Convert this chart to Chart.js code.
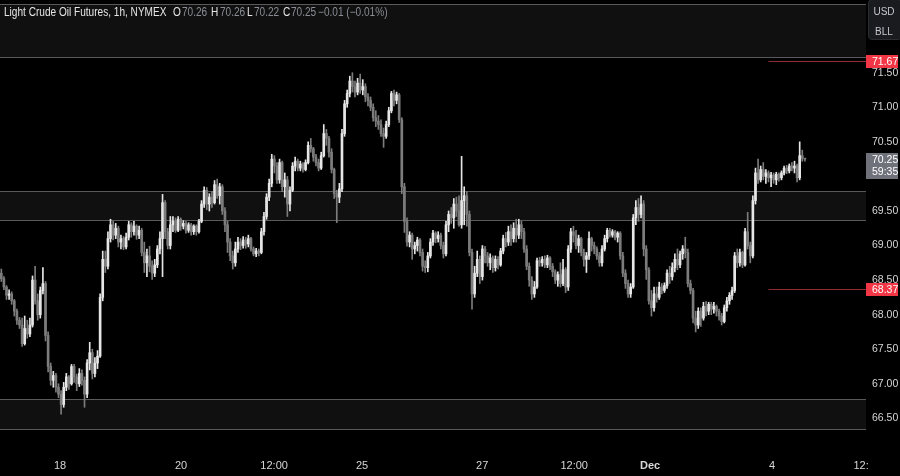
<!DOCTYPE html>
<html><head><meta charset="utf-8">
<script src="https://cdn.jsdelivr.net/npm/chart.js@4/dist/chart.umd.min.js"></script>
<style>
html,body{margin:0;padding:0;background:#000;}
#wrap{position:relative;width:900px;height:476px;overflow:hidden;background:#000;}
canvas{position:absolute;left:0;top:0;}
.t{position:absolute;top:5px;font:12px 'Liberation Sans',sans-serif;white-space:nowrap;line-height:14px;transform:scaleX(0.84);transform-origin:0 0;}
.w{color:#e6e6e6;} .g{color:#8a8d96;}
#unit{position:absolute;left:868px;top:-1px;width:34px;height:41px;background:#1a1b1f;border:1px solid #2c2d31;border-radius:4px;box-sizing:border-box;font:10px 'Liberation Sans',sans-serif;color:#c4c6cc;}
#unit div{position:absolute;left:0;width:30px;text-align:center;}
</style></head>
<body><div id="wrap"><canvas id="c" width="900" height="476"></canvas>
<div class="t w" style="left:4px">Light Crude Oil Futures, 1h, NYMEX</div>
<div id="ohlc"></div>
<div id="unit"><div style="top:6px">USD</div><div style="top:26px">BLL</div></div>
</div>
<script>
// ---- data (hourly candles) ----
const opens = [
68.60,68.52,68.40,68.28,68.30,68.20,68.05,67.92,67.85,67.58,
67.80,67.72,67.85,68.50,68.20,68.00,68.35,68.45,67.70,67.25,
67.05,67.12,66.95,66.85,66.70,66.95,67.10,67.00,67.25,67.10,
67.00,67.15,67.05,66.85,67.30,67.45,67.15,67.30,67.40,68.25,
68.80,68.70,69.10,69.30,69.15,69.25,69.05,69.10,68.98,69.12,
69.30,69.20,69.28,69.15,69.22,68.90,68.75,68.85,68.70,68.60,
68.72,68.95,69.10,69.62,69.20,69.00,69.30,69.35,69.22,69.38,
69.28,69.32,69.22,69.30,69.20,69.28,69.20,69.35,69.60,69.80,
69.60,69.70,69.62,69.88,69.72,69.85,69.50,69.30,69.05,68.85,
68.75,68.95,69.05,69.00,69.08,69.02,69.10,68.95,68.88,68.92,
68.90,69.20,69.42,69.70,69.90,70.25,70.15,69.95,70.20,69.85,
69.95,69.60,69.80,70.15,70.22,70.12,70.18,70.10,70.20,70.45,
70.40,70.28,70.20,70.12,70.30,70.62,70.55,70.35,70.10,69.75,
69.70,69.82,70.62,71.05,71.20,71.38,71.30,71.22,71.35,71.25,
71.30,71.15,71.10,71.00,70.85,70.80,70.75,70.62,70.58,70.75,
70.95,71.20,71.10,71.18,70.82,69.85,69.35,69.05,69.15,68.95,
69.00,69.08,68.90,68.70,68.68,68.85,69.05,69.18,69.10,69.15,
69.00,68.88,69.30,69.45,69.40,69.60,69.50,69.30,69.65,69.72,
69.45,68.90,68.30,68.60,68.80,68.55,68.95,68.85,68.75,68.82,
68.68,68.80,68.72,68.92,69.10,69.05,69.20,69.10,69.25,69.15,
69.30,69.20,68.95,68.70,68.50,68.30,68.40,68.78,68.75,68.80,
68.72,68.82,68.70,68.62,68.50,68.58,68.45,68.65,68.40,68.95,
69.20,69.15,69.00,69.10,68.90,68.80,68.85,69.10,69.00,68.95,
68.85,68.75,68.95,69.10,69.22,69.15,69.20,69.12,69.18,68.85,
68.60,68.45,68.30,68.40,69.40,69.55,69.45,69.60,68.95,68.65,
68.20,68.10,68.30,68.25,68.40,68.35,68.42,68.60,68.55,68.68,
68.80,68.72,68.88,68.95,68.90,68.45,68.35,67.95,67.85,68.05,
67.95,68.12,68.05,68.15,68.08,68.12,68.05,67.98,67.90,68.10,
68.20,68.28,68.35,68.85,68.75,68.90,68.72,69.20,69.00,68.85,
69.65,70.05,69.95,70.10,70.00,70.05,69.98,70.02,69.95,70.03,
69.98,70.05,70.12,70.08,70.15,70.12,70.15,69.98,70.30,70.26];
const highs = [
68.66,68.55,68.42,68.36,68.33,68.22,68.08,67.96,67.95,67.98,
67.92,67.95,68.56,68.70,68.30,68.40,68.68,68.48,67.75,67.30,
67.18,67.15,67.00,66.90,67.02,67.15,67.12,67.28,67.28,67.14,
67.22,67.20,67.10,67.35,67.60,67.50,67.38,67.48,68.30,68.92,
68.92,69.20,69.38,69.35,69.32,69.28,69.15,69.13,69.18,69.35,
69.33,69.35,69.30,69.28,69.25,69.05,68.95,68.99,68.78,68.80,
69.00,69.20,69.74,69.65,69.25,69.42,69.42,69.40,69.42,69.40,
69.36,69.35,69.33,69.32,69.30,69.30,69.38,69.65,69.85,69.84,
69.75,69.78,69.94,69.96,69.90,69.88,69.55,69.35,69.10,68.92,
69.05,69.12,69.10,69.13,69.12,69.15,69.12,68.98,68.96,68.95,
69.25,69.48,69.75,69.96,70.32,70.30,70.20,70.25,70.22,70.05,
70.00,69.85,70.20,70.28,70.25,70.22,70.20,70.24,70.50,70.55,
70.42,70.32,70.25,70.35,70.75,70.68,70.58,70.40,70.12,69.80,
69.90,70.68,71.10,71.25,71.45,71.50,71.38,71.42,71.48,71.40,
71.34,71.20,71.15,71.05,70.95,70.88,70.82,70.70,70.80,71.00,
71.23,71.25,71.22,71.20,70.85,69.90,69.40,69.20,69.18,69.05,
69.12,69.10,68.95,68.78,68.90,69.10,69.22,69.20,69.20,69.18,
69.05,69.35,69.50,69.55,69.68,69.70,69.72,70.29,69.85,69.78,
69.50,68.95,68.70,68.92,68.85,69.00,68.99,68.90,68.88,68.85,
68.85,68.84,68.96,69.15,69.19,69.28,69.30,69.33,69.38,69.38,
69.35,69.25,69.00,68.75,68.55,68.48,68.82,68.83,68.84,68.85,
68.86,68.84,68.74,68.65,68.62,68.75,68.80,68.68,69.00,69.25,
69.28,69.22,69.15,69.12,68.95,68.90,69.20,69.12,69.05,68.98,
68.90,69.00,69.15,69.25,69.25,69.23,69.22,69.20,69.20,68.90,
68.65,68.50,68.45,69.45,69.65,69.68,69.72,69.65,69.00,68.68,
68.35,68.40,68.40,68.47,68.45,68.46,68.65,68.70,68.75,68.88,
68.95,68.92,69.00,69.12,68.95,68.50,68.38,68.05,68.10,68.10,
68.18,68.19,68.18,68.18,68.18,68.14,68.08,68.02,68.14,68.25,
68.32,68.40,68.90,68.95,68.95,68.92,69.25,69.48,69.05,69.72,
70.12,70.25,70.15,70.20,70.10,70.08,70.06,70.05,70.06,70.05,
70.08,70.15,70.16,70.18,70.20,70.22,70.18,70.50,70.38,70.26];
const lows = [
68.48,68.36,68.22,68.22,68.15,67.98,67.86,67.80,67.54,67.56,
67.66,67.68,67.82,68.15,67.92,67.95,68.30,67.62,67.17,66.98,
66.95,66.88,66.80,66.56,66.66,66.90,66.92,66.98,67.02,66.90,
66.96,66.98,66.66,66.80,67.20,67.07,67.10,67.22,67.38,68.20,
68.61,68.66,69.05,69.08,69.10,68.98,68.95,68.94,68.95,69.08,
69.12,69.15,69.09,69.10,68.85,68.61,68.55,68.62,68.51,68.55,
68.68,68.88,68.55,69.10,68.95,68.95,69.20,69.19,69.20,69.22,
69.24,69.18,69.19,69.15,69.16,69.15,69.18,69.33,69.55,69.52,
69.50,69.55,69.60,69.68,69.60,69.45,69.20,68.90,68.78,68.66,
68.70,68.90,68.94,68.96,68.96,68.98,68.92,68.85,68.84,68.85,
68.88,69.15,69.38,69.65,69.85,70.05,69.90,69.90,69.78,69.70,
69.42,69.50,69.78,70.08,70.08,70.08,70.06,70.08,70.18,70.35,
70.22,70.15,70.08,70.10,70.28,70.45,70.28,70.05,69.68,69.33,
69.62,69.78,70.58,71.00,71.15,71.22,71.15,71.18,71.20,71.18,
71.08,71.02,70.95,70.80,70.72,70.68,70.58,70.42,70.55,70.72,
70.92,71.02,71.05,70.78,69.75,69.19,68.99,68.98,68.80,68.88,
68.92,68.85,68.63,68.61,68.62,68.82,69.00,69.04,69.05,68.95,
68.82,68.85,69.20,69.32,69.25,69.42,69.28,69.25,69.30,69.28,
68.85,68.08,68.25,68.55,68.45,68.50,68.75,68.70,68.65,68.61,
68.63,68.66,68.70,68.88,68.98,69.00,69.00,69.05,69.05,69.10,
69.10,68.90,68.65,68.41,68.22,68.25,68.38,68.70,68.70,68.68,
68.68,68.65,68.55,68.45,68.41,68.40,68.42,68.32,68.35,68.90,
69.05,68.95,68.90,68.85,68.70,68.61,68.80,68.92,68.88,68.80,
68.70,68.70,68.92,69.05,69.12,69.12,69.08,69.05,68.80,68.55,
68.38,68.25,68.25,68.38,69.30,69.35,69.40,68.85,68.51,68.15,
67.98,68.05,68.18,68.22,68.30,68.32,68.38,68.45,68.50,68.62,
68.65,68.68,68.80,68.82,68.40,68.30,67.88,67.75,67.80,67.83,
67.92,67.98,68.00,68.00,68.02,67.98,67.92,67.85,67.88,68.05,
68.15,68.22,68.32,68.68,68.70,68.68,68.70,68.95,68.75,68.82,
69.60,69.90,69.92,69.95,69.90,69.92,69.85,69.90,69.88,69.93,
69.95,70.02,70.04,70.05,70.08,70.05,69.92,69.95,70.22,70.22];
const closes = [
68.52,68.40,68.28,68.30,68.20,68.05,67.92,67.85,67.58,67.80,
67.72,67.85,68.50,68.20,68.00,68.35,68.45,67.70,67.25,67.05,
67.12,66.95,66.85,66.70,66.95,67.10,67.00,67.25,67.10,67.00,
67.15,67.05,66.85,67.30,67.45,67.15,67.30,67.40,68.25,68.80,
68.70,69.10,69.30,69.15,69.25,69.05,69.10,68.98,69.12,69.30,
69.20,69.28,69.15,69.22,68.90,68.75,68.85,68.70,68.60,68.72,
68.95,69.10,69.62,69.20,69.00,69.30,69.35,69.22,69.38,69.28,
69.32,69.22,69.30,69.20,69.28,69.20,69.35,69.60,69.80,69.60,
69.70,69.62,69.88,69.72,69.85,69.50,69.30,69.05,68.85,68.75,
68.95,69.05,69.00,69.08,69.02,69.10,68.95,68.88,68.92,68.90,
69.20,69.42,69.70,69.90,70.25,70.15,69.95,70.20,69.85,69.95,
69.60,69.80,70.15,70.22,70.12,70.18,70.10,70.20,70.45,70.40,
70.28,70.20,70.12,70.30,70.62,70.55,70.35,70.10,69.75,69.70,
69.82,70.62,71.05,71.20,71.38,71.30,71.22,71.35,71.25,71.30,
71.15,71.10,71.00,70.85,70.80,70.75,70.62,70.58,70.75,70.95,
71.20,71.10,71.18,70.82,69.85,69.35,69.05,69.15,68.95,69.00,
69.08,68.90,68.70,68.68,68.85,69.05,69.18,69.10,69.15,69.00,
68.88,69.30,69.45,69.40,69.60,69.50,69.30,69.65,69.72,69.45,
68.90,68.30,68.60,68.80,68.55,68.95,68.85,68.75,68.82,68.68,
68.80,68.72,68.92,69.10,69.05,69.20,69.10,69.25,69.15,69.30,
69.20,68.95,68.70,68.50,68.30,68.40,68.78,68.75,68.80,68.72,
68.82,68.70,68.62,68.50,68.58,68.45,68.65,68.40,68.95,69.20,
69.15,69.00,69.10,68.90,68.80,68.85,69.10,69.00,68.95,68.85,
68.75,68.95,69.10,69.22,69.15,69.20,69.12,69.18,68.85,68.60,
68.45,68.30,68.40,69.40,69.55,69.45,69.60,68.95,68.65,68.20,
68.10,68.30,68.25,68.40,68.35,68.42,68.60,68.55,68.68,68.80,
68.72,68.88,68.95,68.90,68.45,68.35,67.95,67.85,68.05,67.95,
68.12,68.05,68.15,68.08,68.12,68.05,67.98,67.90,68.10,68.20,
68.28,68.35,68.85,68.75,68.90,68.72,69.20,69.00,68.85,69.65,
70.05,69.95,70.10,70.00,70.05,69.98,70.02,69.95,70.03,69.98,
70.05,70.12,70.08,70.15,70.12,70.15,69.98,70.30,70.26,70.25];

// candle slots (incl. empty right margin) and time-axis labels by candle index
const slotCount = 333;
const timeTickIndex = [22.6, 69.1, 104.9, 138.7, 184.9, 220.3, 249.5, 296.4, 330.6];
const timeTickText  = ['18', '20', '12:00', '25', '27', '12:00', 'Dec', '4', '12:'];
const priceTicks = [66.5, 67.0, 67.5, 68.0, 68.5, 69.0, 69.5, 70.0, 70.5, 71.0, 71.5];
const zones = [[69.368, 69.783], [66.344, 66.777], [71.727, 72.50]];
const alertLevels = [71.67, 68.37];
const alertStartIndex = 295;
const countdown = '59:35';

const UP = '#e6e6e6', DOWN = '#7c7c7c';
const n = closes.length;
const colors = closes.map((c, i) => c >= opens[i] ? UP : DOWN);
const wickData = lows.map((l, i) => ({x: i, y: [l, highs[i]]}));
const bodyData = opens.map((o, i) => ({x: i, y: [Math.min(o, closes[i]), Math.max(o, closes[i])]}));

// header OHLC text
const last = n - 1;
const chg = closes[last] - closes[last - 1];
const pct = chg / closes[last - 1] * 100;
const fmt = v => v.toFixed(2);
const sgn = v => (v < 0 ? '\u2212' : '+') + Math.abs(v).toFixed(2);
const parts = [
  [173, 'w', 'O'], [182, 'g', fmt(opens[last])],
  [211, 'w', 'H'], [220, 'g', fmt(highs[last])],
  [247, 'w', 'L'], [254, 'g', fmt(lows[last])],
  [283, 'w', 'C'], [291, 'g', fmt(closes[last])],
  [318, 'g', sgn(chg) + ' (' + sgn(pct) + '%)']
];
document.getElementById('ohlc').innerHTML = parts.map(p =>
  '<div class="t ' + p[1] + '" style="left:' + p[0] + 'px">' + p[2] + '</div>').join('');

const FONT = "'Liberation Sans',sans-serif";

const overlay = {
  id: 'overlay',
  beforeDatasetsDraw(chart) {
    const {ctx, chartArea: a, scales: {y}} = chart;
    ctx.save();
    zones.forEach(([lo, hi]) => {
      const yt = Math.round(y.getPixelForValue(hi)) + 0.5;
      const yb = Math.round(y.getPixelForValue(lo)) + 0.5;
      ctx.fillStyle = '#101010';
      ctx.fillRect(a.left, yt, a.right - a.left, yb - yt);
      ctx.strokeStyle = '#5a5a5a';
      ctx.lineWidth = 1;
      ctx.beginPath();
      ctx.moveTo(a.left, yt); ctx.lineTo(a.right, yt);
      ctx.moveTo(a.left, yb); ctx.lineTo(a.right, yb);
      ctx.stroke();
    });
    ctx.restore();
  },
  afterDraw(chart) {
    const {ctx, chartArea: a, scales: {x, y}} = chart;
    ctx.save();
    const x0 = x.getPixelForValue(alertStartIndex);
    ctx.font = '10.5px ' + FONT;
    ctx.textAlign = 'left'; ctx.textBaseline = 'middle';
    alertLevels.forEach(v => {
      const py = Math.round(y.getPixelForValue(v)) + 0.5;
      ctx.strokeStyle = '#8e2b33';
      ctx.lineWidth = 1;
      ctx.beginPath(); ctx.moveTo(x0, py); ctx.lineTo(a.right, py); ctx.stroke();
      ctx.fillStyle = '#f23645';
      ctx.fillRect(a.right, Math.round(py - 6.5), 32, 13);
      ctx.fillStyle = '#ffffff';
      ctx.fillText(v.toFixed(2), a.right + 6, py + 0.5);
    });
    // current price box
    const cy = y.getPixelForValue(closes[last]);
    ctx.fillStyle = '#6f727b';
    ctx.fillRect(a.right, Math.round(cy - 6.5), 32, 26);
    ctx.fillStyle = '#ffffff';
    ctx.fillText(fmt(closes[last]), a.right + 6, cy + 0.5);
    ctx.fillText(countdown, a.right + 6, cy + 12.5);
    ctx.restore();
  }
};

new Chart(document.getElementById('c'), {
  type: 'bar',
  data: {
    datasets: [
      {data: wickData, backgroundColor: colors, barThickness: 1, grouped: false, order: 2},
      {data: bodyData, backgroundColor: colors, barThickness: 2, minBarLength: 1, grouped: false, order: 1}
    ]
  },
  options: {
    responsive: false,
    devicePixelRatio: 1,
    animation: false,
    layout: {padding: 0},
    plugins: {legend: {display: false}, tooltip: {enabled: false}, title: {display: false}},
    scales: {
      x: {
        type: 'linear', min: -0.5, max: slotCount - 0.5, offset: false,
        grid: {display: false, drawTicks: false}, border: {display: false},
        afterBuildTicks: ax => { ax.ticks = timeTickIndex.map(v => ({value: v})); },
        afterFit: ax => { ax.height = 26; ax.paddingLeft = 0; ax.paddingRight = 0; },
        ticks: {
          autoSkip: false, maxRotation: 0, minRotation: 0, padding: 9, color: '#d6d6d6',
          font: c => ({family: FONT, size: 11, weight: timeTickText[c.index] === 'Dec' ? 'bold' : 'normal'}),
          callback: (v, i) => timeTickText[i]
        }
      },
      y: {
        position: 'right', min: 66.042, max: 72.552,
        grid: {display: false, drawTicks: false}, border: {display: false},
        afterBuildTicks: ax => { ax.ticks = priceTicks.map(v => ({value: v})); },
        afterFit: ax => { ax.width = 34; ax.paddingTop = 0; ax.paddingBottom = 0; },
        ticks: {padding: 6, color: '#d6d6d6', font: {family: FONT, size: 10.5}, callback: v => Number(v).toFixed(2)}
      }
    }
  },
  plugins: [overlay]
});
</script>
</body></html>
